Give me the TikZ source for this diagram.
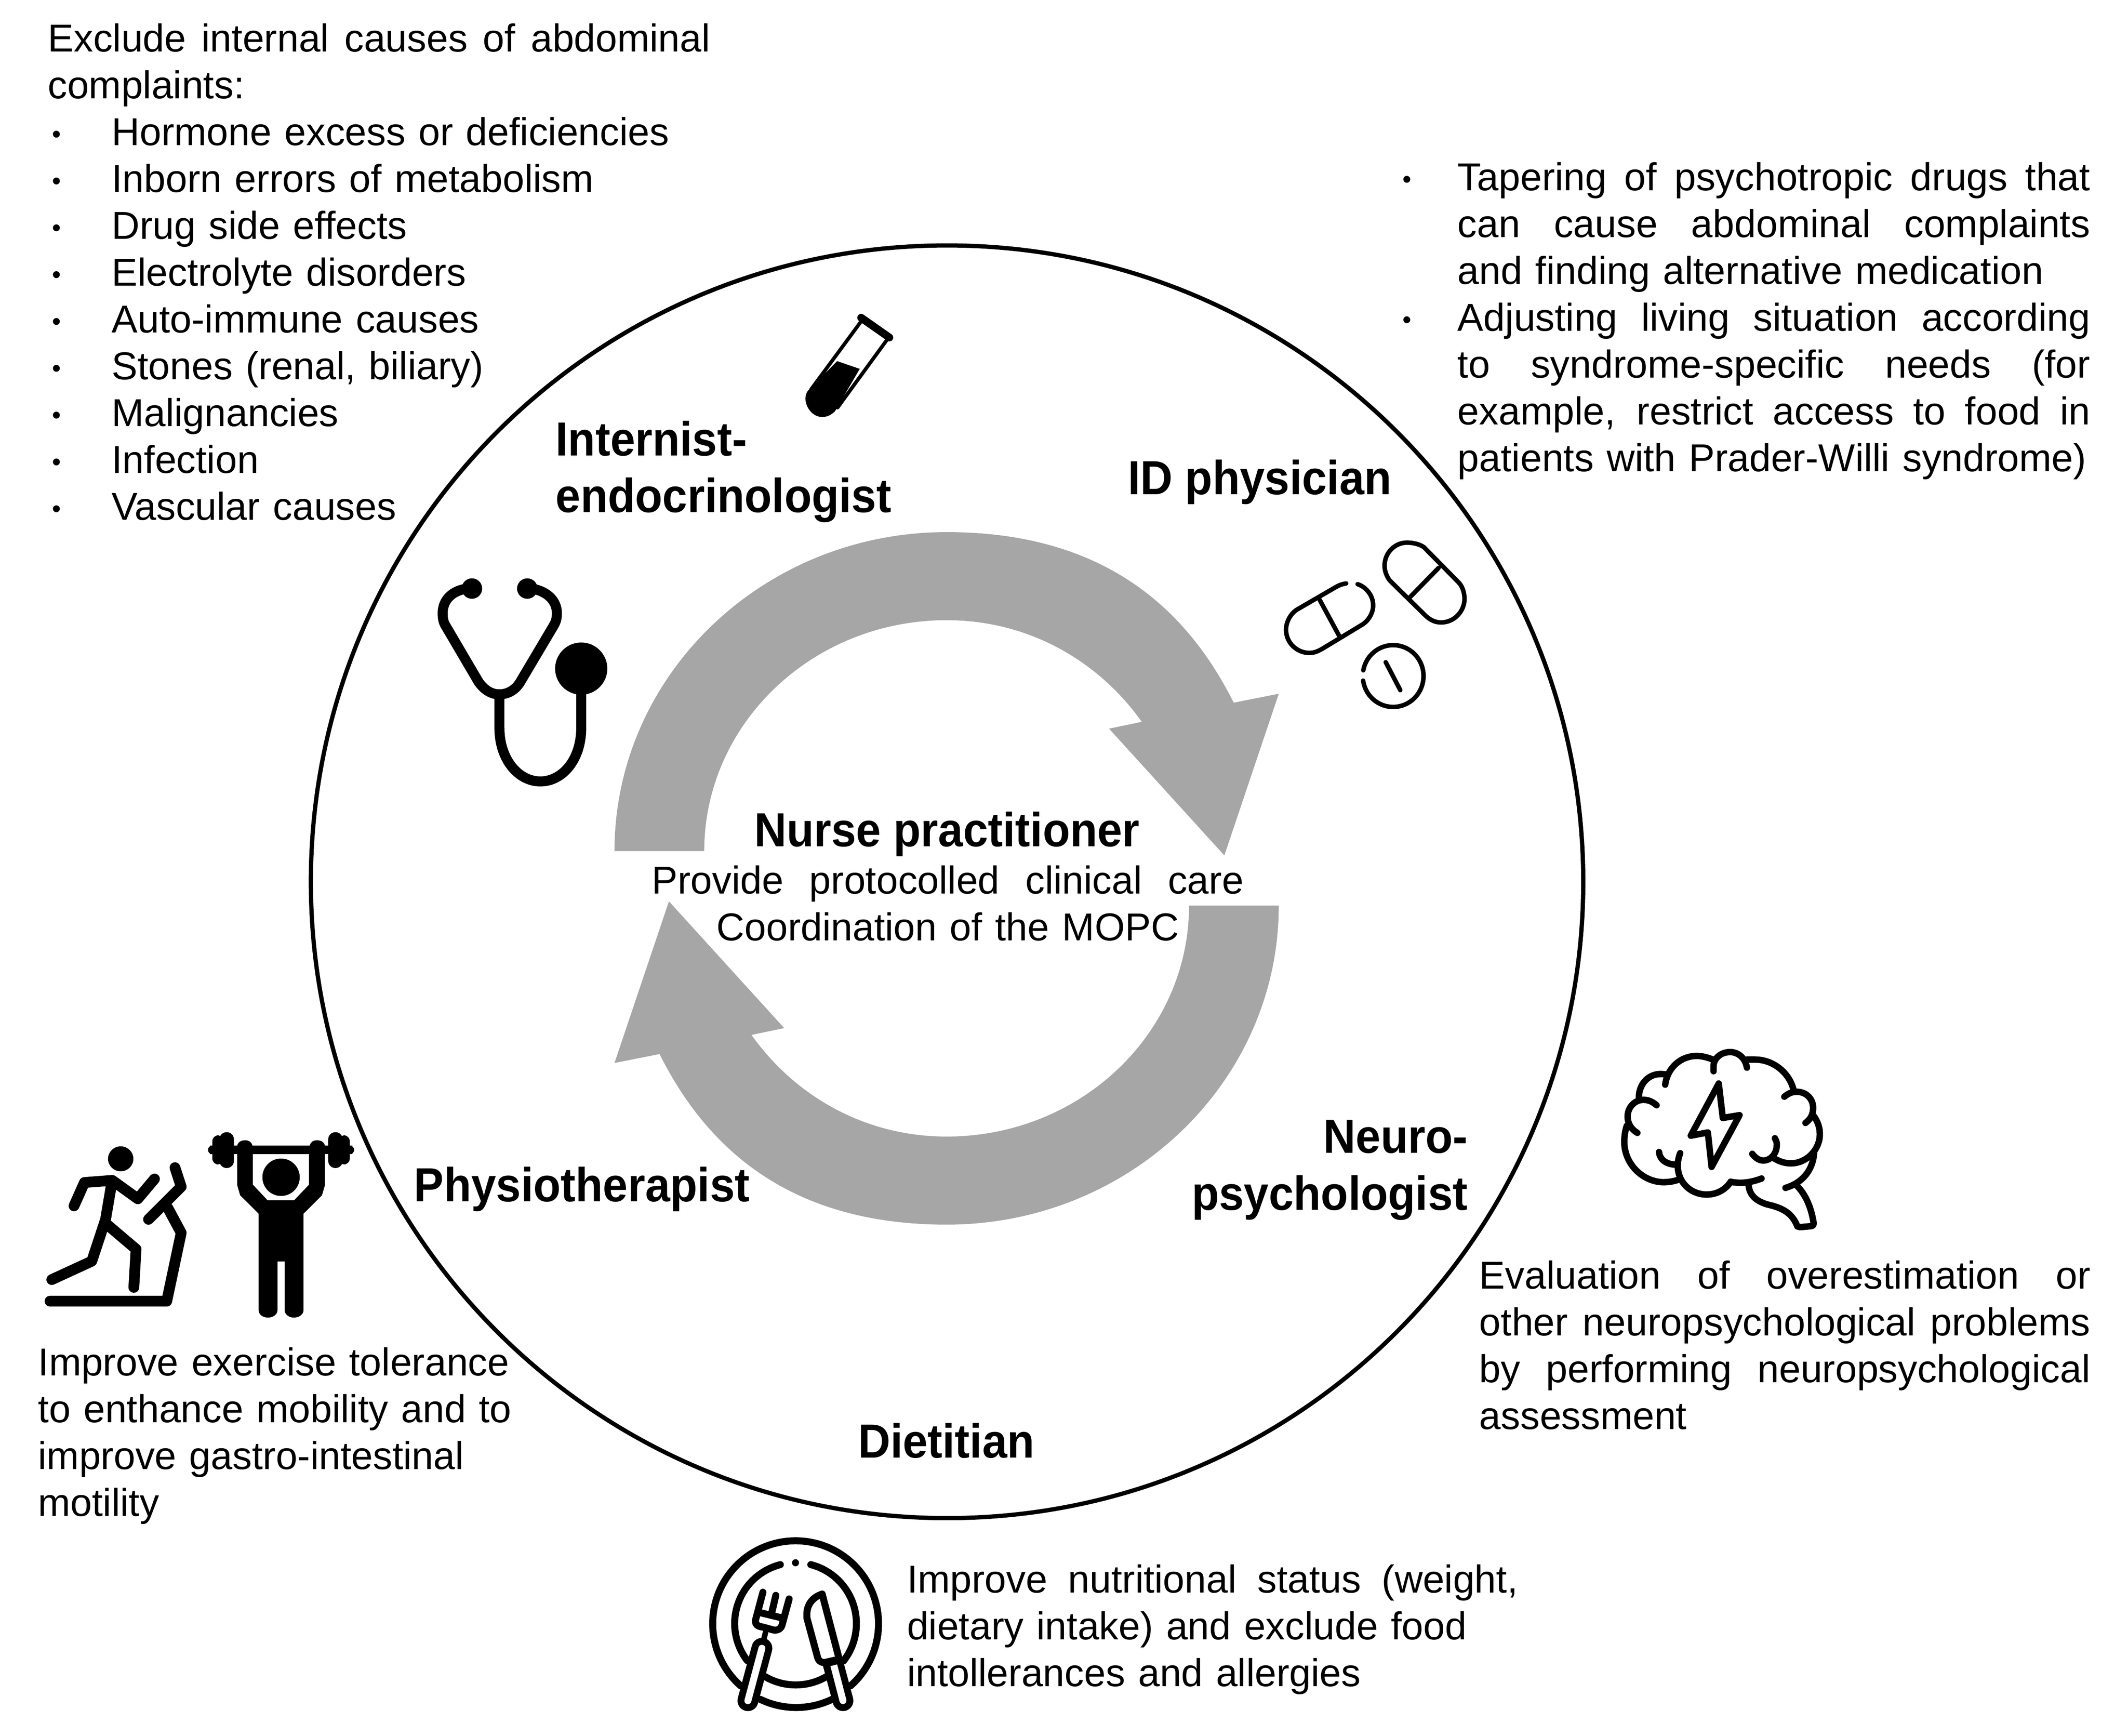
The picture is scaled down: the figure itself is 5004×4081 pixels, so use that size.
\documentclass[tikz,border=0pt]{standalone}
\usepackage{fontspec}
\setmainfont{Liberation Sans}
\newfontfamily\rolefont{Liberation Sans}[FakeStretch=0.935]
\definecolor{ringgrey}{HTML}{A6A6A6}
\newcommand{\bul}[1][31pt]{\leavevmode\llap{\raisebox{1.8pt}{\fontsize{17}{17}\selectfont •}\hspace{#1}}}
\newcommand{\jl}[2]{\leavevmode\hbox to #1{\spaceskip=0.278em plus 1fil\relax #2}}
\tikzset{
  textblock/.style={font=\fontsize{26}{31.3}\selectfont, inner sep=0pt, anchor=north west, align=left, text width=480pt,
    execute at begin node={\leavevmode\rule{0pt}{22pt}}},
  rolelabel/.style={font=\fontsize{32}{38}\selectfont\rolefont\bfseries, inner sep=0pt},
  iconthin/.style={line width=3pt},
  iconmid/.style={line width=4.3pt},
  iconplate/.style={line width=4.7pt},
  iconfat/.style={line width=7.2pt}
}
\begin{document}
\begin{tikzpicture}[x=0.01cm, y=-0.01cm, line join=round, line cap=round]
\useasboundingbox (0,0) rectangle (5004,4081);
\draw[line width=2.85pt] (2227,2073) circle (1496);
\foreach \r in {0,180}
\fill[ringgrey, rotate around={\r:(2226,2065)}] (1445,2001) .. controls (1445,1587) and (1795,1251) .. (2226,1251)
 .. controls (2576,1251) and (2781,1412) .. (2901,1652) -- (3007,1631) -- (2879,2011) -- (2608,1713) -- (2685,1697)
 .. controls (2581,1551) and (2416,1458) .. (2226,1458) .. controls (1911,1458) and (1656,1701) .. (1656,2001) -- cycle;

\node[textblock] (complaints) at (262,44) {\hspace*{-42.7pt}\jl{443pt}{Exclude internal causes of abdominal}\\
\hspace*{-42.7pt}complaints:\\
\bul[34pt]Hormone excess or deficiencies\\
\bul[34pt]Inborn errors of metabolism\\
\bul[34pt]Drug side effects\\
\bul[34pt]Electrolyte disorders\\
\bul[34pt]Auto-immune causes\\
\bul[34pt]Stones (renal, biliary)\\
\bul[34pt]Malignancies\\
\bul[34pt]Infection\\
\bul[34pt]Vascular causes};
\node[textblock] (tapering) at (3427,370) {\bul\jl{423pt}{Tapering of psychotropic drugs that}\\
\jl{423pt}{can cause abdominal complaints}\\
and finding alternative medication\\
\bul\jl{423pt}{Adjusting living situation according}\\
\jl{423pt}{to syndrome-specific needs (for}\\
\jl{423pt}{example, restrict access to food in}\\
patients with Prader-Willi syndrome)};
\node[textblock] (evaluation) at (3478,2952) {\jl{408.6pt}{Evaluation of overestimation or}\\
\jl{408.6pt}{other neuropsychological problems}\\
\jl{408.6pt}{by performing neuropsychological}\\
assessment};
\node[textblock] (exercise) at (89,3156) {Improve exercise tolerance\\
to enthance mobility and to\\
improve gastro-intestinal\\
motility};
\node[textblock] (nutrition) at (2132,3666) {\jl{408.6pt}{Improve nutritional status (weight,}\\
dietary intake) and exclude food\\
intollerances and allergies};
\node[textblock, text width=395.8pt, align=center] (nursetasks) at (1532,2023) {\jl{395.8pt}{Provide protocolled clinical care}\\
Coordination of the MOPC};

\node[rolelabel, anchor=base] (nurse) at (2227,1990) {Nurse practitioner};
\node[rolelabel, anchor=north west, align=left] (internist) at (1306,986) {\rule{0pt}{24pt}Internist-\\endocrinologist};
\node[rolelabel, anchor=base west] (idphysician) at (2652,1162) {ID physician};
\node[rolelabel, anchor=north east, align=right] (neuro) at (3452,2626) {\rule{0pt}{24pt}Neuro-\\psychologist};
\node[rolelabel, anchor=base west] (physio) at (973,2825) {Physiotherapist};
\node[rolelabel, anchor=base west] (dietitian) at (2017,3427) {Dietitian};

\begin{scope}[shift={(900,650)}, scale=0.829]
\draw[line width=5.2pt] (1357,117) -- (1437,173);
\draw[line width=2.4pt] (1355,130) -- (1215,320) (1430,180) -- (1290,372);
\fill (1289,240) -- (1353,262) -- (1283,382) .. controls (1255,410) and (1220,400) .. (1205,370) .. controls (1195,350) and (1198,330) .. (1210,320) -- cycle;
\draw[line width=6.7pt] (240,885) .. controls (200,890) and (170,915) .. (170,955) .. controls (170,970) and (172,980) .. (178,990) -- (272,1150)
 .. controls (290,1175) and (310,1185) .. (331,1185) .. controls (352,1185) and (375,1175) .. (390,1150) -- (485,990) .. controls (492,978) and (494,968) .. (494,955) .. controls (494,915) and (460,890) .. (420,885);
\fill (253,885) circle (29) (410,885) circle (29) (563,1112) circle (74);
\draw[line width=6.7pt] (331,1185) -- (331,1280) .. controls (331,1370) and (385,1432) .. (447,1432) .. controls (510,1432) and (563,1370) .. (563,1280) -- (563,1180);
\end{scope}

\begin{scope}[shift={(2900,1200)}, xscale=0.4464, yscale=0.3333]
\draw[iconthin] (595,515) .. controls (570,520) and (555,530) .. (545,537) -- (335,700) .. controls (300,730) and (278,790) .. (278,840)
 .. controls (278,940) and (340,1005) .. (400,1005) .. controls (430,1005) and (450,990) .. (470,975) -- (680,805)
 .. controls (715,775) and (737,720) .. (737,670) .. controls (737,600) and (700,540) .. (655,520);
\draw[iconthin] (455,630) -- (558,885);
\draw[iconthin] (1005,260) .. controls (985,240) and (950,227) .. (915,227) .. controls (850,227) and (797,300) .. (797,390)
 .. controls (797,430) and (810,470) .. (825,495) -- (1015,745) .. controls (1040,775) and (1065,790) .. (1095,790)
 .. controls (1165,790) and (1218,710) .. (1218,625) .. controls (1218,575) and (1205,530) .. (1185,505) -- cycle;
\draw[iconthin] (925,620) -- (1082,405);
\draw[iconthin] (685,1128) arc[start angle=190.6, end angle=531.5, x radius=160, y radius=218];
\draw[iconthin] (803,1070) -- (880,1268);
\end{scope}

\begin{scope}[shift={(3750,2420)}, xscale=0.3827, yscale=0.3333]
\draw[iconmid] (197,680) .. controls (185,720) and (180,770) .. (182,810) .. controls (190,960) and (300,1075) .. (420,1078) .. controls (460,1078) and (490,1070) .. (515,1060);
\draw[iconmid] (262,730) .. controls (225,705) and (202,665) .. (202,615) .. controls (202,550) and (245,497) .. (300,497) .. controls (335,497) and (360,515) .. (380,535);
\draw[iconmid] (272,495) .. controls (265,400) and (320,318) .. (400,315) .. controls (412,315) and (425,315) .. (437,318);
\draw[iconmid] (433,390) .. controls (445,280) and (520,190) .. (625,187) .. controls (660,187) and (700,200) .. (730,215);
\draw[iconmid] (730,295) -- (730,260) .. controls (730,205) and (775,160) .. (832,160) .. controls (880,160) and (925,200) .. (935,270);
\draw[iconmid] (935,213) -- (985,213) .. controls (1100,213) and (1195,310) .. (1220,420);
\draw[iconmid] (1165,475) .. controls (1185,455) and (1210,440) .. (1240,440) .. controls (1300,440) and (1342,490) .. (1342,555) .. controls (1342,600) and (1325,635) .. (1295,660);
\draw[iconmid] (1345,610) .. controls (1370,650) and (1383,690) .. (1383,740) .. controls (1383,850) and (1300,945) .. (1205,945) .. controls (1165,945) and (1130,930) .. (1095,905);
\draw[iconmid] (1107,768) .. controls (1120,795) and (1120,810) .. (1118,825) .. controls (1115,880) and (1080,925) .. (1035,925) .. controls (1010,925) and (985,905) .. (968,878);
\draw[iconmid] (395,865) .. controls (400,920) and (440,955) .. (510,955);
\draw[iconmid] (525,873) .. controls (515,905) and (510,930) .. (510,960) .. controls (510,1080) and (590,1165) .. (688,1165) .. controls (750,1165) and (805,1130) .. (835,1075);
\draw[iconmid] (835,1075) .. controls (900,1090) and (960,1080) .. (1025,1052);
\draw[iconmid] (945,1095) .. controls (950,1170) and (990,1210) .. (1060,1235) .. controls (1160,1260) and (1215,1300) .. (1245,1390) -- (1262,1395) -- (1330,1388) .. controls (1345,1385) and (1345,1375) .. (1345,1365) .. controls (1330,1260) and (1300,1170) .. (1240,1100);
\draw[iconmid] (1172,1118) .. controls (1270,1085) and (1340,1000) .. (1348,870);
\draw[iconmid] (762,382) -- (590,750) -- (695,727) -- (718,970) -- (890,605) -- (787,625) -- cycle;
\end{scope}

\begin{scope}[shift={(60,2650)}, xscale=0.523, yscale=0.3333]
\fill (428,223) ellipse (57 and 88);
\draw[iconfat] (218,555) -- (265,390) -- (390,375) -- (505,505) -- (580,365);
\draw[iconfat] (388,390) -- (360,650) -- (298,945) -- (118,1075);
\draw[iconfat] (362,680) -- (497,860) -- (487,1130);
\draw[iconfat] (672,285) -- (700,420) -- (553,650);
\draw[iconfat] (640,570) -- (700,745) -- (635,1227) -- (110,1227);
\fill (1149,353) ellipse (84 and 132);
\fill[even odd rule] (952,130) .. controls (955,105) and (970,92) .. (987,92) .. controls (1004,92) and (1017,105) .. (1020,130) -- (1278,130) .. controls (1281,105) and (1294,92) .. (1311,92) .. controls (1328,92) and (1343,105) .. (1346,130)
 -- (1346,410) -- (1333,480) -- (1250,610) -- (1250,1290) .. controls (1250,1320) and (1230,1343) .. (1207,1343) .. controls (1184,1343) and (1165,1320) .. (1165,1290) -- (1165,947) -- (1133,947) -- (1133,1290)
 .. controls (1133,1320) and (1113,1343) .. (1090,1343) .. controls (1067,1343) and (1048,1320) .. (1048,1290) -- (1048,610) -- (965,480) -- (952,410) -- cycle
 (1022,190) -- (1022,405) -- (1088,515) -- (1208,515) -- (1275,405) -- (1275,190) -- cycle;
\foreach \s in {1,-1} {
\begin{scope}[shift={(1149,0)}, xscale=\s]
\fill[rounded corners=4.8pt] (-277,35) rectangle (-212,288);
\fill[rounded corners=4pt] (-309,57) rectangle (-260,263);
\fill[rounded corners=3pt] (-329,130) rectangle (-300,190);
\fill (-320,130) rectangle (-190,190);
\end{scope}
}
\end{scope}

\begin{scope}[shift={(1640,3600)}, scale=0.3333]
\draw[iconplate] (305,1090) arc[start angle=131.5, end angle=408.5, radius=585];
\draw[iconplate] (950,1185) arc[start angle=64.3, end angle=115.7, radius=585];
\draw[iconplate] (585,235) arc[start angle=255.6, end angle=142.4, radius=429];
\draw[iconplate] (800,235) arc[start angle=284.5, end angle=397.9, radius=429];
\draw[iconplate] (910,1025) arc[start angle=59.7, end angle=120.2, radius=429];
\fill (692,222) circle (25);
\draw[line width=13.9pt] (455,825) -- (356,1195);
\draw[white, line width=4.65pt] (455,825) -- (356,1195);
\draw[line width=3.7pt] (480,715) -- (465,775);
\draw[iconplate] (462,430) -- (410,625) .. controls (405,660) and (430,672) .. (460,675) -- (540,697) .. controls (575,700) and (595,680) .. (600,650) -- (647,477);
\draw[iconplate] (553,452) -- (523,580);
\draw[iconplate] (435,572) -- (600,612);
\draw[iconplate] (880,443) .. controls (810,465) and (772,520) .. (772,585) -- (772,610) -- (848,890) .. controls (855,915) and (875,928) .. (900,925) -- (990,905);
\draw[iconplate] (880,443) -- (1000,900);
\draw[line width=13.9pt, line cap=butt] (955,925) -- (1027,1195);
\fill (1027,1195) circle (73);
\draw[white, line width=4.65pt, line cap=butt] (962,945) -- (1027,1195);
\fill[white] (1027,1195) circle (24);
\end{scope}
\end{tikzpicture}
\end{document}
